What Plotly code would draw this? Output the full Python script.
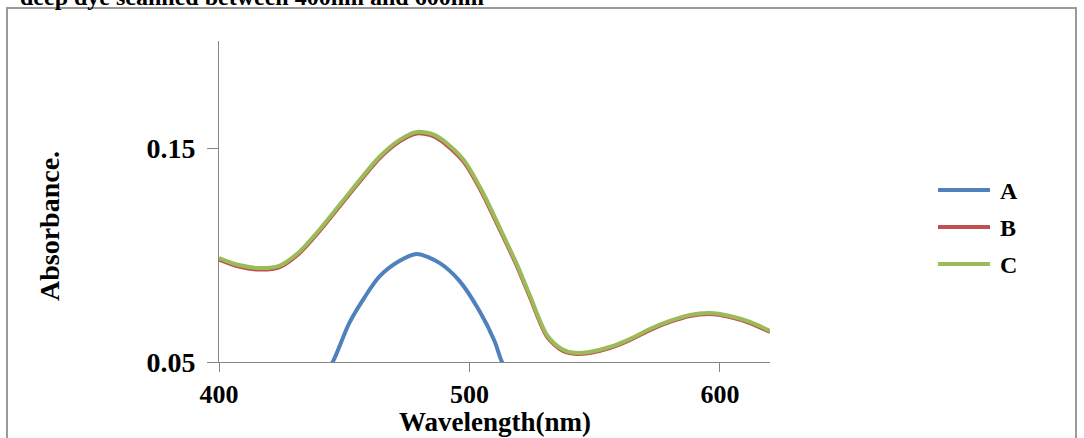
import plotly.graph_objects as go

# Data
wl_bc = [400, 408, 416, 424, 432, 440, 452, 464, 472, 479, 486, 492, 498, 505,
         512, 519, 524, 531, 537, 542, 548, 556, 564, 572, 580, 588, 596, 604, 612, 620]
abs_c = [0.0986, 0.0953, 0.0939, 0.0949, 0.1014, 0.1117, 0.1290, 0.1458, 0.1537, 0.1575,
         0.1561, 0.1512, 0.1440, 0.1300, 0.1130, 0.0955, 0.0815, 0.0625, 0.0560, 0.0543,
         0.0547, 0.0570, 0.0607, 0.0654, 0.0692, 0.0720, 0.0729, 0.0715, 0.0687, 0.0645]
abs_b = [0.0979, 0.0946, 0.0932, 0.0942, 0.1007, 0.1110, 0.1283, 0.1451, 0.1530, 0.1568,
         0.1553, 0.1503, 0.1431, 0.1291, 0.1121, 0.0947, 0.0807, 0.0618, 0.0554, 0.0538,
         0.0542, 0.0565, 0.0602, 0.0649, 0.0687, 0.0715, 0.0724, 0.0710, 0.0682, 0.0640]
wl_a = [440, 445.4, 452, 458, 464, 472, 479, 488, 496, 504, 510, 513, 518]
abs_a = [0.040, 0.050, 0.0682, 0.0800, 0.0899, 0.0972, 0.1005, 0.0963, 0.0879, 0.0738,
         0.0598, 0.0500, 0.040]

series_names = ["A", "B", "C"]
series_colors = ["#4F81BD", "#C0504D", "#9BBB59"]

x_ticks = [400, 500, 600]
y_ticks = [0.05, 0.15]
y_tick_text = ["0.05", "0.15"]

title_text = "deep dye scanned between 400nm and 600nm"
x_title = "Wavelength(nm)"
y_title = "Absorbance."

SERIF = "Liberation Serif"
AXIS_GRAY = "#868686"

fig = go.Figure()
for name, color, xs, ys in zip(series_names, series_colors,
                               [wl_a, wl_bc, wl_bc], [abs_a, abs_b, abs_c]):
    fig.add_trace(go.Scatter(x=xs, y=ys, mode="lines", name=name, showlegend=False,
                             line=dict(color=color, width=4, shape="spline",
                                       smoothing=0.8)))

L, R, T, B = 219, 314, 41, 76
W, H = 1084, 438
pw, ph = W - L - R, H - T - B


def px(x):
    return (x - L) / pw


def py(y):
    return (H - B - y) / ph


fig.update_layout(
    width=W, height=H,
    margin=dict(l=L, r=R, t=T, b=B, pad=0),
    paper_bgcolor="white", plot_bgcolor="white",
    font=dict(family=SERIF, color="black", size=27, weight="bold"),
    showlegend=False,
)

fig.update_xaxes(range=[400, 620], tickvals=x_ticks, ticks="outside", ticklen=9,
                 tickcolor=AXIS_GRAY, tickwidth=1, showline=True, linecolor=AXIS_GRAY,
                 linewidth=1, showgrid=False, zeroline=False, ticklabelstandoff=0,
                 tickfont=dict(size=26, family=SERIF, weight="bold"))
fig.update_yaxes(range=[0.05, 0.2], tickvals=y_ticks, ticktext=y_tick_text,
                 ticks="outside", ticklen=11, tickcolor=AXIS_GRAY, tickwidth=1,
                 showline=True, linecolor=AXIS_GRAY, linewidth=1, showgrid=False,
                 zeroline=False, ticklabelstandoff=6,
                 tickfont=dict(size=28, family=SERIF, weight="bold"))

# outer border box
fig.add_shape(type="rect", xref="paper", yref="paper",
              x0=px(7), x1=px(1076), y0=py(446), y1=py(8),
              line=dict(color="#9a9a9a", width=2), layer="below")

# legend (line samples + labels)
for i, (name, color) in enumerate(zip(series_names, series_colors)):
    yy = 190 + i * 37
    fig.add_shape(type="line", xref="paper", yref="paper",
                  x0=px(938), x1=px(990), y0=py(yy), y1=py(yy),
                  line=dict(color=color, width=4))
    fig.add_annotation(text=name, xref="paper", yref="paper", x=px(998), y=py(yy + 1),
                       xanchor="left", yanchor="middle", showarrow=False,
                       font=dict(size=24, family=SERIF, weight="bold"))

# cut-off title at top
fig.add_annotation(text=title_text, xref="paper", yref="paper", x=px(18), y=py(12),
                   xanchor="left", yanchor="bottom", showarrow=False,
                   font=dict(size=24, family=SERIF, weight="bold"))
# axis titles
fig.add_annotation(text=x_title, xref="paper", yref="paper", x=px(495), y=py(438),
                   xanchor="center", yanchor="bottom", showarrow=False, borderpad=0,
                   font=dict(size=27, family=SERIF, weight="bold"))
fig.add_annotation(text=y_title, xref="paper", yref="paper", x=px(50), y=py(226),
                   xanchor="center", yanchor="middle", showarrow=False, textangle=-90,
                   font=dict(size=28, family=SERIF, weight="bold"))

fig.write_html("out.html")
